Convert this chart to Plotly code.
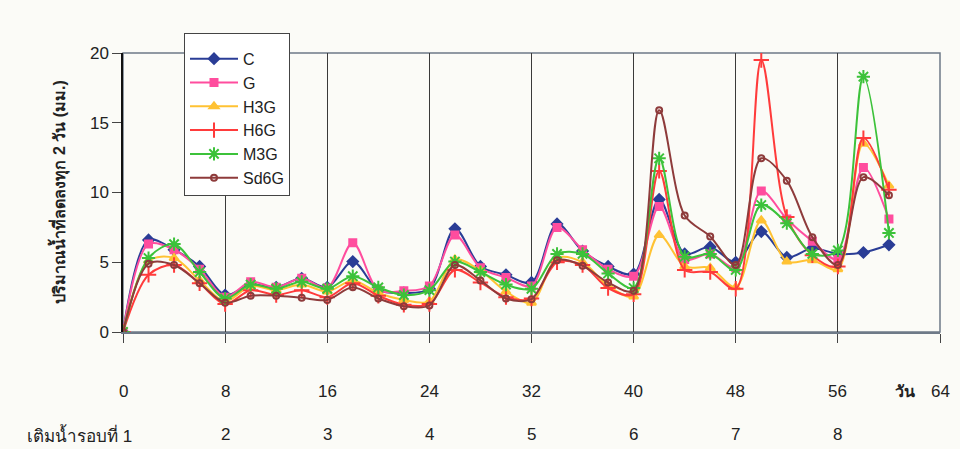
import plotly.graph_objects as go

days = list(range(0, 61, 2))

C = [0, 6.6, 5.9, 4.7, 2.65, 3.4, 3.2, 3.85, 3.2, 5.05, 3.0, 2.8, 3.1, 7.4, 4.7, 4.1,
     3.55, 7.75, 5.8, 4.7, 4.15, 9.5, 5.6, 6.1, 5.0, 7.2, 5.35, 6.0, 5.6, 5.7, 6.25]
G = [0, 6.3, 5.9, 4.5, 2.5, 3.6, 3.2, 3.85, 3.15, 6.4, 3.0, 2.95, 3.3, 6.95, 4.6, 3.9,
     3.3, 7.5, 5.9, 4.5, 4.0, 9.0, 5.2, 5.6, 4.6, 10.1, 8.1, 6.5, 5.2, 11.8, 8.1]
H3G = [0, 5.1, 5.3, 3.7, 2.2, 3.3, 3.0, 3.4, 2.9, 3.7, 2.8, 2.3, 2.2, 5.2, 4.4, 2.9,
       2.1, 5.3, 5.0, 3.3, 2.55, 6.95, 4.7, 4.6, 3.2, 8.0, 5.05, 5.15, 4.5, 13.5, 10.5]
H6G = [0, 4.1, 4.8, 3.5, 2.0, 3.0, 2.65, 3.0, 2.5, 3.5, 2.6, 1.95, 2.0, 4.45, 3.55, 2.5,
       2.4, 5.0, 4.8, 3.15, 2.7, 11.55, 4.45, 4.3, 3.1, 19.5, 8.25, 5.5, 4.7, 13.9, 10.2]
M3G = [0, 5.3, 6.3, 4.3, 2.4, 3.4, 3.1, 3.6, 3.1, 4.0, 3.2, 2.65, 3.0, 5.05, 4.3, 3.4,
       3.1, 5.6, 5.6, 4.2, 3.15, 12.45, 5.4, 5.6, 4.45, 9.1, 7.8, 5.6, 5.85, 18.3, 7.1]
Sd6G = [0, 4.9, 4.8, 3.5, 2.1, 2.6, 2.6, 2.45, 2.3, 3.2, 2.4, 1.85, 1.9, 4.8, 3.7, 2.4,
        2.35, 5.15, 4.75, 3.55, 2.95, 15.9, 8.35, 6.85, 4.8, 12.45, 10.85, 6.8, 4.8, 11.1, 9.8]

series_names = ["C", "G", "H3G", "H6G", "M3G", "Sd6G"]
series_values = [C, G, H3G, H6G, M3G, Sd6G]

x_tick_vals = [0, 8, 16, 24, 32, 40, 48, 56, 64]
x_tick_text = ["0", "8", "16", "24", "32", "40", "48", "56", "64"]
round_vals = [8, 16, 24, 32, 40, 48, 56]
round_text = ["2", "3", "4", "5", "6", "7", "8"]
y_tick_vals = [0, 5, 10, 15, 20]

colors = ["#2a3d96", "#ff4d9e", "#ffc233", "#ff3b3b", "#3cc23a", "#8e3b3b"]
symbols = ["diamond", "square", "triangle-up", "cross-thin", "asterisk", "circle-open"]
msizes = [8, 7, 8, 11, 11, 6]

fig = go.Figure()
for name, vals, col, sym, ms in zip(series_names, series_values, colors, symbols, msizes):
    fig.add_trace(go.Scatter(
        x=days, y=vals, name=name, mode="lines+markers",
        line=dict(color=col, width=2, shape="spline", smoothing=0.9),
        marker=dict(symbol=sym, size=ms, color=col,
                    line=dict(color=col, width=2)),
    ))

font_main = "Liberation Sans, Arial, sans-serif"

fig.update_layout(
    width=960, height=449,
    margin=dict(l=123, r=20, t=53, b=117),
    paper_bgcolor="#fbfbf7", plot_bgcolor="#fbfbf7",
    font=dict(family=font_main, size=16, color="#222"),
    showlegend=True,
    legend=dict(
        x=(184 - 123) / 817, y=(332 - 33) / 279, xanchor="left", yanchor="top",
        bgcolor="#ffffff", bordercolor="#444", borderwidth=1,
        font=dict(family=font_main, size=16, color="#222"),
        tracegroupgap=0, itemwidth=48,
        title=dict(text=" ", font=dict(size=6)),
    ),
    xaxis=dict(
        range=[0, 64], tickvals=x_tick_vals, showticklabels=False,
        showgrid=True, gridcolor="#3a3a3a", gridwidth=1,
        ticks="outside", ticklen=9, tickcolor="#444",
        showline=True, linecolor="#6e7a88", linewidth=1.5, zeroline=False,
    ),
    yaxis=dict(
        range=[0, 20], tickvals=y_tick_vals, showgrid=False, zeroline=False,
        ticks="outside", ticklen=9, tickcolor="#444",
        showline=True, linecolor="#111", linewidth=1.5,
        tickfont=dict(family=font_main, size=17, color="#222"),
    ),
)

# plot border (top / right)
fig.add_shape(type="rect", xref="paper", yref="paper", x0=0, x1=1, y0=0, y1=1,
              line=dict(color="#6e7a88", width=1.5), layer="below")

ann = []
for v, t in zip(x_tick_vals, x_tick_text):
    ann.append(dict(x=v, xref="x", y=-0.215, yref="paper", text=t, showarrow=False,
                    xanchor="center", yanchor="middle",
                    font=dict(family=font_main, size=17, color="#222")))
ann.append(dict(x=(905 - 123) / 817, xref="paper", y=-0.215, yref="paper",
                text="<b>วัน</b>", showarrow=False, xanchor="center", yanchor="middle",
                font=dict(size=16, color="#222")))
for v, t in zip(round_vals, round_text):
    ann.append(dict(x=v, xref="x", y=-0.369, yref="paper", text=t, showarrow=False,
                    xanchor="center", yanchor="middle",
                    font=dict(family=font_main, size=17, color="#222")))
ann.append(dict(x=(25 - 123) / 817, xref="paper", y=-0.369, yref="paper",
                text="เติมน้ำรอบที่ 1", showarrow=False, xanchor="left", yanchor="middle",
                font=dict(size=17, color="#222")))
ann.append(dict(x=(58 - 123) / 817, xref="paper", y=0.5, yref="paper",
                text="<b>ปริมาณน้ำที่ลดลงทุก 2 วัน (มม.)</b>", showarrow=False,
                textangle=-90, xanchor="center", yanchor="middle",
                font=dict(size=16, color="#222")))
fig.update_layout(annotations=ann)

fig.write_html("out.html")
